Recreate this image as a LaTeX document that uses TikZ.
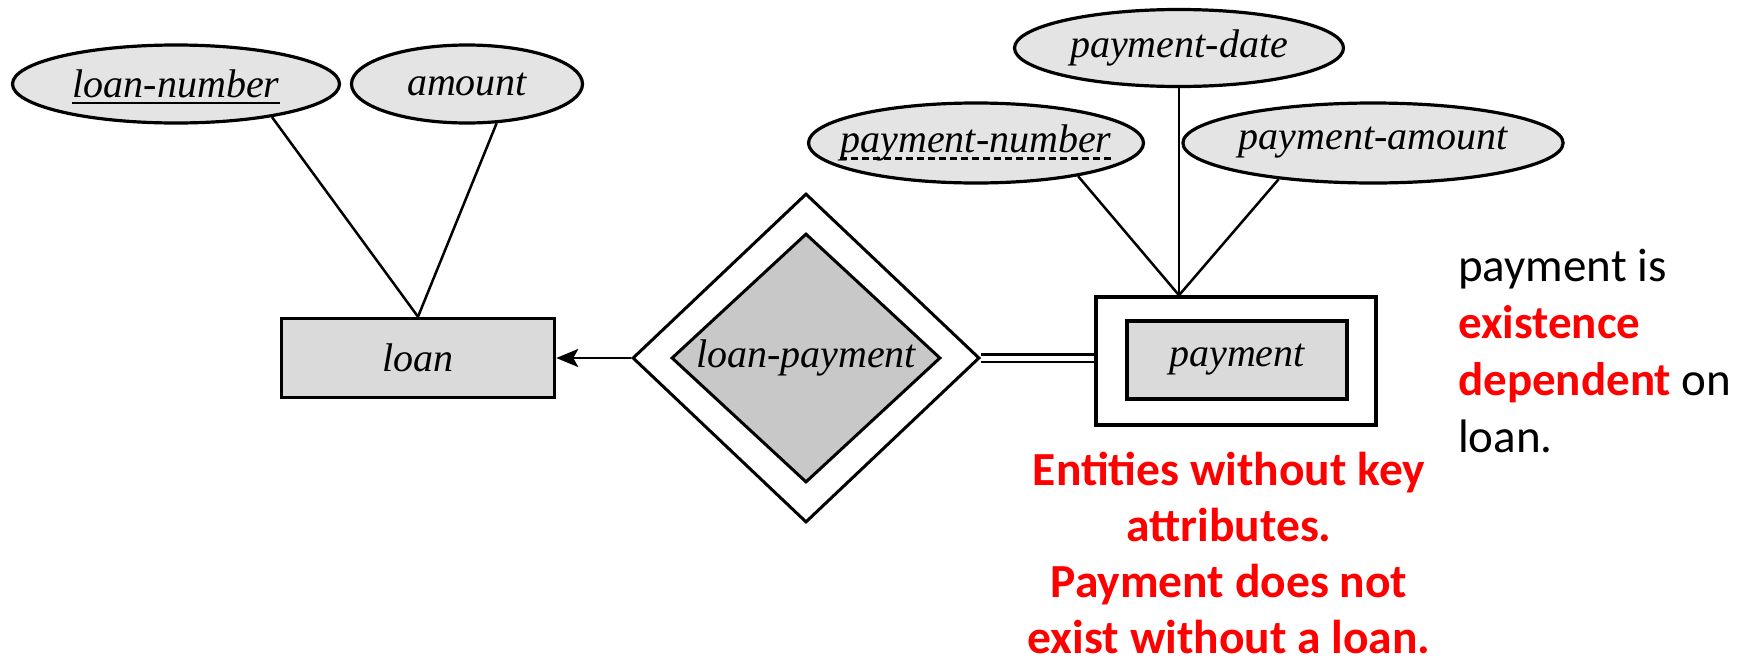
\documentclass[tikz,border=0pt]{standalone}
\usepackage{fontspec}
\setmainfont{Liberation Serif}
\newfontfamily\notefont{Carlito}
\usetikzlibrary{shapes.geometric,arrows.meta,calc}
\definecolor{attrfill}{RGB}{228,228,228}
\definecolor{entfill}{RGB}{218,218,218}
\definecolor{relfill}{RGB}{200,200,200}
\definecolor{notered}{RGB}{255,0,0}
\begin{document}
\begin{tikzpicture}[x=1pt,y=-1pt,
  lbl/.style={font=\fontsize{40}{48}\selectfont\itshape, inner sep=0pt},
  attr/.style={ellipse, draw, line width=3.2pt, fill=attrfill, inner sep=0pt, lbl},
  entity/.style={rectangle, draw, line width=3.5pt, fill=entfill, inner sep=0pt, lbl},
  rel/.style={diamond, draw, line width=3pt, inner sep=0pt, lbl},
  conn/.style={line width=2.5pt},
  uline/.style={line width=2pt},
  dline/.style={line width=2.5pt, dash pattern=on 7pt off 4pt},
  note/.style={inner sep=0pt, font=\fontsize{47}{57}\notefont},
  rednote/.style={inner sep=0pt, text=notered, font=\fontsize{47.5}{56}\notefont\bfseries}
]
\fill[white] (0,0) rectangle (1750,667);
\useasboundingbox (0,0) rectangle (1750,667);

% loan side
\node[attr, minimum width=327pt, minimum height=78pt] (ln) at (176,84) {};
\node[lbl] (lnt) at (ln.center) {loan-number};
\node[attr, minimum width=231pt, minimum height=78pt] (am) at (467,84) {amount};
\node[entity, minimum width=273pt, minimum height=79pt] (loan) at (418,358) {loan};

% relationship
\node[rel, fill=white, minimum width=347pt, minimum height=329pt] (od) at (806,358) {};
\node[rel, fill=relfill, aspect=1.08, minimum width=269pt, minimum height=249pt] (id) at (806,358) {loan-payment};

% payment side
\node[draw, line width=3.5pt, fill=white, inner sep=0pt, minimum width=280pt, minimum height=128pt] (pout) at (1236,361) {};
\node[entity, minimum width=220pt, minimum height=78pt] (pay) at (1237,360) {payment};
\node[attr, minimum width=329pt, minimum height=77pt] (pd) at (1179,48) {payment-date};
\node[attr, minimum width=335pt, minimum height=80pt] (pn) at (976,143) {};
\node[lbl] (pnt) at (pn.center) {payment-number};
\node[attr, minimum width=360pt, minimum height=80pt] (pa) at (1373,143) {payment-amount};

% underlines
\draw[uline] ([yshift=-5pt]lnt.base west) -- ([yshift=-5pt]lnt.base east);
\draw[dline] ([yshift=-6pt]pnt.base west) -- ([yshift=-6pt]pnt.base east);

% connectors
\coordinate (pj) at (pd.south |- pout.north);
\draw[conn] (pd.south) -- (pj);
\draw[conn] (pn.-18) -- (pj);
\draw[conn] (pa.201) -- (pj);
\draw[conn] (ln.-19) -- (loan.north);
\draw[conn] (am.-53) -- (loan.north);
\draw[conn, -{Stealth[length=22pt,width=18pt,inset=5pt]}] (od.west) -- (loan.east);
\draw[line width=2.5pt, double, double distance=5pt] (od.east) -- (od.east -| pout.west);

% notes
\node[rednote, anchor=north, align=center] (rt) at (1229,452)
  {Entities without key\\ attributes.\\ Payment does not\\ exist without a loan.};
\node[note, anchor=north west, align=left] (bt) at (1458,249)
  {payment is\\ \textcolor{notered}{\bfseries existence}\\ \textcolor{notered}{\bfseries dependent} on\\ loan.};
\end{tikzpicture}
\end{document}
